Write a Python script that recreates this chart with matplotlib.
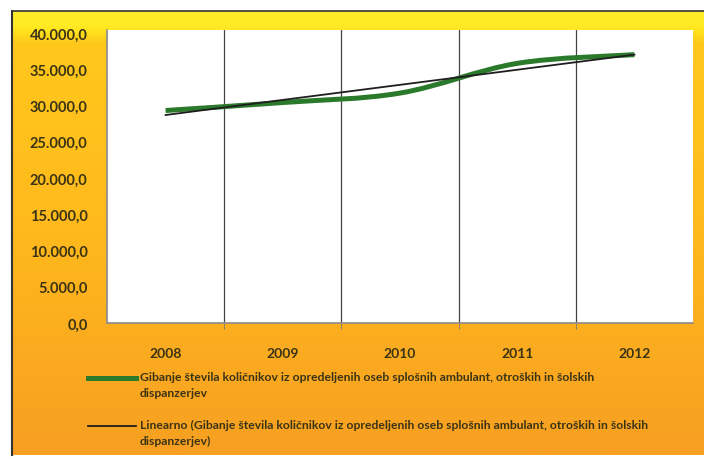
import numpy as np
import matplotlib.pyplot as plt
from matplotlib.path import Path
from matplotlib.patches import PathPatch
from matplotlib.colors import LinearSegmentedColormap
from matplotlib.lines import Line2D
from matplotlib.ticker import FuncFormatter

years = ["2008", "2009", "2010", "2011", "2012"]
kolicniki = [29300, 30400, 31700, 35800, 37000]

label_series = ("Gibanje števila količnikov iz opredeljenih oseb splošnih ambulant, otroških in šolskih\n"
                "dispanzerjev")
label_trend = ("Linearno (Gibanje števila količnikov iz opredeljenih oseb splošnih ambulant, otroških in šolskih\n"
               "dispanzerjev)")

plt.rcParams['font.family'] = ['Lato', 'DejaVu Sans']

W, H = 704, 460
fig = plt.figure(figsize=(W / 100, H / 100), dpi=100)
fig.patch.set_facecolor("white")

# orange chart area with a yellow band on top
bg = fig.add_axes([12 / W, 1 - 456 / H, 692 / W, 444 / H])
cmap = LinearSegmentedColormap.from_list("bg", [
    (0.0, "#ffee2a"), (0.03, "#ffea24"), (0.045, "#ffe21e"), (0.07, "#ffc81c"),
    (0.5, "#ffb91c"), (0.75, "#fbac1f"), (1.0, "#f79f22")])
grad = np.linspace(0, 1, 256).reshape(-1, 1)
bg.imshow(grad, aspect="auto", cmap=cmap, extent=[0, 1, 0, 1], origin="upper")
bg.set_xlim(0, 1)
bg.set_ylim(0, 1)
bg.axis("off")

# frame lines
fig.add_artist(Line2D([12 / W, 12 / W], [1 - 456 / H, 1 - 12 / H], color="#333333", lw=1.5))
fig.add_artist(Line2D([12 / W, 1], [1 - 12 / H, 1 - 12 / H], color="#333333", lw=1.2))

ax = fig.add_axes([107 / W, 1 - 324 / H, 586 / W, 293 / H])
ax.set_facecolor("white")

x = np.arange(len(years))
y = np.array(kolicniki, dtype=float)

# smoothed series as bezier segments
pts = np.column_stack([x, y])
ext = np.vstack([pts[0], pts, pts[-1]])
verts = [tuple(pts[0])]
codes = [Path.MOVETO]
for i in range(len(pts) - 1):
    p0, p1, p2, p3 = ext[i], ext[i + 1], ext[i + 2], ext[i + 3]
    c1 = p1 + (p2 - p0) / 6
    c2 = p2 - (p3 - p1) / 6
    verts += [tuple(c1), tuple(c2), tuple(p2)]
    codes += [Path.CURVE4] * 3
ax.add_patch(PathPatch(Path(verts, codes), facecolor="none", edgecolor="#2b7a2b",
                       lw=3.6, capstyle="butt", zorder=3))

# linear trendline
k, b = np.polyfit(x, y, 1)
ax.plot(x, k * x + b, color="#1e1e1e", lw=1.3, zorder=4)

ax.set_xlim(-0.5, len(years) - 0.5)
ax.set_ylim(0, 40400)
ax.set_yticks(np.arange(0, 40001, 5000))
ax.yaxis.set_major_formatter(FuncFormatter(
    lambda v, p: f"{v:,.1f}".replace(",", "X").replace(".", ",").replace("X", ".")))
ax.set_xticks(x)
ax.set_xticklabels(years)
ax.set_xticks(x[:-1] + 0.5, minor=True)
ax.grid(True, which="minor", axis="x", color="#444444", lw=0.9)
ax.tick_params(axis="x", which="major", length=0, pad=17)
ax.tick_params(axis="x", which="minor", length=4, color="#777777")
ax.tick_params(axis="y", length=0, pad=14)
for lab in ax.get_xticklabels() + ax.get_yticklabels():
    lab.set_fontweight("bold")
    lab.set_color("#3a3314")
for lab in ax.get_yticklabels():
    lab.set_fontsize(10.5)
for lab in ax.get_xticklabels():
    lab.set_fontsize(10)
for s in ["top", "right"]:
    ax.spines[s].set_visible(False)
for s in ["left", "bottom"]:
    ax.spines[s].set_color("#8a8a8a")
    ax.spines[s].set_linewidth(1.2)

# legend below the plot
def legend_entry(ypix, color, lw, text):
    yy = 1 - ypix / H
    fig.add_artist(Line2D([88 / W, 136 / W], [yy, yy], color=color, lw=lw))
    fig.text(140 / W, yy + 7 / H, text, fontsize=8.7, fontweight="bold", color="#3a3314",
             va="top", ha="left", linespacing=1.55)

legend_entry(379, "#2b7a2b", 3.6, label_series)
legend_entry(427, "#1e1e1e", 1.3, label_trend)

fig.savefig("out.png", dpi=100)
